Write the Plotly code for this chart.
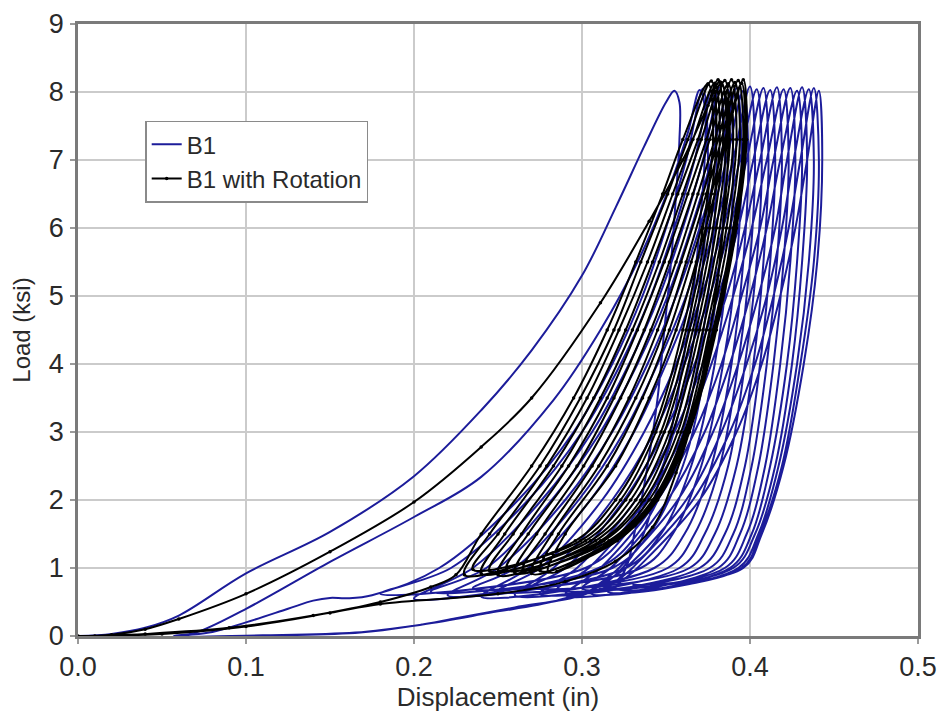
import plotly.graph_objects as go

# ---------------- DATA ----------------
# Load levels at which the displacement of each cycle branch is read
UP_LOADS = [1.0, 2.0, 3.0, 4.0, 5.0, 6.0, 7.0]
DOWN_LOADS = [7.0, 5.5, 4.0, 2.5, 1.5, 1.0]

# B1: first cycles (explicit path)
B1_INIT_X = [0.0, 0.02, 0.04, 0.06, 0.10, 0.15, 0.20, 0.24, 0.27, 0.30, 0.32, 0.337, 0.35, 0.355,
             0.358, 0.358, 0.356, 0.353, 0.349, 0.345, 0.339, 0.332, 0.323, 0.30, 0.26, 0.225, 0.20, 0.168, 0.12, 0.057,
             0.07, 0.10, 0.15, 0.20, 0.24, 0.283, 0.311, 0.335, 0.352, 0.363, 0.37,
             0.373, 0.373, 0.37, 0.366, 0.36, 0.353, 0.344, 0.333, 0.315, 0.285, 0.245, 0.205, 0.165, 0.11, 0.062,
             0.08, 0.10, 0.125, 0.14, 0.15, 0.16]
B1_INIT_Y = [0.0, 0.03, 0.12, 0.30, 0.92, 1.53, 2.35, 3.32, 4.20, 5.30, 6.30, 7.20, 7.85, 8.02,
             7.85, 7.30, 6.50, 5.50, 4.50, 3.50, 2.50, 1.60, 0.87, 0.60, 0.42, 0.26, 0.15, 0.05, 0.01, 0.0,
             0.05, 0.40, 1.09, 1.75, 2.34, 3.47, 4.50, 5.60, 6.60, 7.40, 8.03,
             7.80, 7.00, 6.00, 5.00, 4.00, 3.00, 2.10, 1.30, 0.80, 0.52, 0.34, 0.17, 0.05, 0.01, 0.0,
             0.06, 0.20, 0.40, 0.52, 0.56, 0.555]

# B1: later cycles
B1_VALLEY_X = [0.175, 0.18, 0.20, 0.21, 0.22, 0.235, 0.24, 0.25, 0.26, 0.27, 0.275, 0.285, 0.29, 0.30, 0.305, 0.31, 0.315, 0.32]
B1_VALLEY_Y = [0.60, 0.62, 0.55, 0.65, 0.60, 0.70, 0.58, 0.66, 0.60, 0.72, 0.62, 0.68, 0.60, 0.70, 0.63, 0.72, 0.66, 0.70]
B1_UP_X = [
    [0.215, 0.262, 0.295, 0.318, 0.336, 0.350, 0.362],
    [0.222, 0.268, 0.300, 0.323, 0.341, 0.355, 0.367],
    [0.235, 0.276, 0.306, 0.328, 0.346, 0.360, 0.372],
    [0.243, 0.282, 0.311, 0.333, 0.351, 0.365, 0.377],
    [0.250, 0.290, 0.318, 0.339, 0.356, 0.370, 0.382],
    [0.260, 0.298, 0.325, 0.345, 0.362, 0.375, 0.386],
    [0.268, 0.305, 0.331, 0.350, 0.366, 0.379, 0.390],
    [0.275, 0.312, 0.337, 0.356, 0.371, 0.384, 0.394],
    [0.283, 0.318, 0.343, 0.361, 0.376, 0.388, 0.398],
    [0.290, 0.325, 0.349, 0.367, 0.381, 0.393, 0.402],
    [0.297, 0.332, 0.355, 0.372, 0.386, 0.397, 0.406],
    [0.304, 0.338, 0.361, 0.377, 0.390, 0.401, 0.410],
    [0.311, 0.345, 0.367, 0.383, 0.395, 0.406, 0.414],
    [0.317, 0.351, 0.373, 0.388, 0.400, 0.410, 0.418],
    [0.322, 0.357, 0.378, 0.393, 0.405, 0.415, 0.422],
    [0.326, 0.362, 0.383, 0.398, 0.410, 0.419, 0.426],
    [0.330, 0.366, 0.388, 0.403, 0.414, 0.423, 0.430],
    [0.333, 0.370, 0.392, 0.407, 0.418, 0.427, 0.434],
]
B1_PEAK_X = [0.372, 0.377, 0.382, 0.387, 0.392, 0.396, 0.400, 0.404, 0.408, 0.412, 0.416, 0.420, 0.424, 0.428, 0.431, 0.435, 0.438, 0.441]
B1_PEAK_Y = [8.05, 8.02, 8.07, 8.03, 8.06, 8.02, 8.08, 8.04, 8.06, 8.03, 8.07, 8.04, 8.06, 8.02, 8.07, 8.04, 8.06, 8.02]
B1_DOWN_X = [
    [0.375, 0.372, 0.364, 0.348, 0.326, 0.302],
    [0.380, 0.377, 0.369, 0.354, 0.333, 0.310],
    [0.385, 0.382, 0.374, 0.360, 0.340, 0.318],
    [0.390, 0.387, 0.379, 0.365, 0.347, 0.326],
    [0.395, 0.392, 0.384, 0.371, 0.354, 0.335],
    [0.399, 0.396, 0.389, 0.377, 0.361, 0.343],
    [0.403, 0.400, 0.393, 0.382, 0.367, 0.351],
    [0.407, 0.404, 0.397, 0.387, 0.373, 0.358],
    [0.411, 0.408, 0.402, 0.392, 0.379, 0.364],
    [0.415, 0.412, 0.406, 0.397, 0.385, 0.370],
    [0.419, 0.416, 0.410, 0.401, 0.390, 0.376],
    [0.423, 0.420, 0.414, 0.405, 0.394, 0.381],
    [0.427, 0.424, 0.418, 0.409, 0.398, 0.385],
    [0.431, 0.428, 0.422, 0.412, 0.401, 0.388],
    [0.434, 0.431, 0.425, 0.415, 0.403, 0.390],
    [0.438, 0.435, 0.428, 0.417, 0.405, 0.393],
    [0.441, 0.438, 0.430, 0.419, 0.406, 0.395],
    [0.443, 0.440, 0.432, 0.420, 0.407, 0.396],
]
B1_END_X = [0.33]
B1_END_Y = [0.75]

# B1 with Rotation: first cycle (explicit path)
ROT_UP_LOADS = [1.5, 2.5, 3.5, 4.5, 5.5, 6.5, 7.3]
ROT_DOWN_LOADS = [7.3, 6.0, 4.5, 3.0, 2.0, 1.4]
ROT_INIT_X = [0.0, 0.02, 0.04, 0.06, 0.10, 0.15, 0.20, 0.24, 0.27, 0.311, 0.34, 0.36, 0.375, 0.382,
              0.386, 0.387, 0.385, 0.381, 0.375, 0.367, 0.356, 0.342, 0.32, 0.29, 0.25, 0.18, 0.15, 0.10, 0.05, 0.01,
              0.04, 0.09, 0.14, 0.18, 0.21]
ROT_INIT_Y = [0.0, 0.02, 0.10, 0.25, 0.62, 1.24, 1.97, 2.78, 3.50, 4.90, 6.10, 7.00, 7.80, 8.15,
              7.90, 7.20, 6.30, 5.30, 4.30, 3.30, 2.40, 1.60, 1.10, 0.80, 0.62, 0.47, 0.34, 0.14, 0.03, 0.0,
              0.03, 0.12, 0.30, 0.50, 0.72]
ROT_VALLEY_X = [0.225, 0.23, 0.235, 0.24, 0.245, 0.25, 0.255, 0.26, 0.265, 0.27, 0.275, 0.28]
ROT_VALLEY_Y = [0.90, 0.90, 0.98, 0.92, 0.96, 0.90, 0.97, 0.93, 0.98, 0.92, 0.96, 0.94]
ROT_UP_X = [
    [0.240, 0.270, 0.295, 0.315, 0.332, 0.348, 0.360],
    [0.245, 0.275, 0.299, 0.319, 0.335, 0.351, 0.363],
    [0.250, 0.279, 0.303, 0.322, 0.339, 0.354, 0.366],
    [0.254, 0.283, 0.307, 0.326, 0.342, 0.357, 0.369],
    [0.259, 0.288, 0.311, 0.330, 0.346, 0.360, 0.371],
    [0.264, 0.292, 0.315, 0.333, 0.349, 0.363, 0.374],
    [0.268, 0.297, 0.319, 0.337, 0.352, 0.366, 0.376],
    [0.273, 0.301, 0.323, 0.341, 0.356, 0.369, 0.379],
    [0.278, 0.306, 0.328, 0.345, 0.359, 0.372, 0.381],
    [0.282, 0.310, 0.332, 0.349, 0.362, 0.374, 0.383],
    [0.286, 0.315, 0.336, 0.352, 0.365, 0.377, 0.385],
    [0.290, 0.320, 0.340, 0.356, 0.368, 0.379, 0.386],
]
ROT_PEAK_X = [0.375, 0.377, 0.379, 0.381, 0.383, 0.385, 0.387, 0.389, 0.391, 0.393, 0.395, 0.396]
ROT_PEAK_Y = [8.12, 8.16, 8.13, 8.18, 8.14, 8.17, 8.12, 8.18, 8.14, 8.17, 8.13, 8.18]
ROT_DOWN_X = [
    [0.378, 0.372, 0.360, 0.342, 0.320, 0.296],
    [0.380, 0.374, 0.362, 0.344, 0.323, 0.299],
    [0.382, 0.376, 0.364, 0.347, 0.326, 0.302],
    [0.384, 0.378, 0.366, 0.349, 0.329, 0.305],
    [0.386, 0.380, 0.368, 0.352, 0.332, 0.308],
    [0.388, 0.382, 0.370, 0.354, 0.335, 0.311],
    [0.390, 0.384, 0.372, 0.357, 0.337, 0.313],
    [0.392, 0.386, 0.374, 0.359, 0.340, 0.316],
    [0.394, 0.388, 0.376, 0.361, 0.342, 0.318],
    [0.396, 0.390, 0.378, 0.362, 0.343, 0.319],
    [0.397, 0.391, 0.379, 0.363, 0.344, 0.320],
    [0.398, 0.392, 0.380, 0.364, 0.345, 0.321],
]
ROT_END_X = [0.285]
ROT_END_Y = [0.95]

X_TICKS = [0.0, 0.1, 0.2, 0.3, 0.4, 0.5]
Y_TICKS = [0, 1, 2, 3, 4, 5, 6, 7, 8, 9]


def build_path(init_x, init_y, vx, vy, upx, up_loads, px, py, dnx, dn_loads, end_x, end_y):
    xs = list(init_x)
    ys = list(init_y)
    for i in range(len(vx)):
        xs.append(vx[i]); ys.append(vy[i])
        xs.extend(upx[i]); ys.extend(up_loads)
        xs.append(px[i]); ys.append(py[i])
        xs.extend(dnx[i]); ys.extend(dn_loads)
    xs.extend(end_x); ys.extend(end_y)
    return xs, ys


b1_x, b1_y = build_path(B1_INIT_X, B1_INIT_Y, B1_VALLEY_X, B1_VALLEY_Y, B1_UP_X, UP_LOADS,
                        B1_PEAK_X, B1_PEAK_Y, B1_DOWN_X, DOWN_LOADS, B1_END_X, B1_END_Y)
rot_x, rot_y = build_path(ROT_INIT_X, ROT_INIT_Y, ROT_VALLEY_X, ROT_VALLEY_Y, ROT_UP_X, ROT_UP_LOADS,
                          ROT_PEAK_X, ROT_PEAK_Y, ROT_DOWN_X, ROT_DOWN_LOADS, ROT_END_X, ROT_END_Y)

FONT = "Liberation Sans, Arial, sans-serif"
TXT = "#2a2a2a"

fig = go.Figure()
fig.add_trace(go.Scatter(
    x=b1_x, y=b1_y, name="B1", mode="lines",
    line=dict(color="#1c1c9a", width=2.0, shape="spline", smoothing=1.0),
))
fig.add_trace(go.Scatter(
    x=rot_x, y=rot_y, name="B1 with Rotation", mode="lines+markers",
    line=dict(color="#000000", width=2.0, shape="spline", smoothing=1.0),
    marker=dict(color="#000000", size=3.5),
))

axis_common = dict(
    showgrid=True, gridcolor="#cbcbcb", gridwidth=1.6,
    showline=True, linecolor="#7a7a7a", linewidth=2.5, mirror=True,
    ticks="outside", ticklen=5, tickcolor="#9a9a9a", tickwidth=1.5,
    zeroline=False, automargin=False,
    tickfont=dict(family=FONT, size=27, color=TXT),
)

fig.update_layout(
    width=940, height=717,
    margin=dict(l=78, r=22, t=24, b=81),
    paper_bgcolor="white", plot_bgcolor="white",
    font=dict(family=FONT, color=TXT),
    showlegend=True,
    legend=dict(
        x=0.08, y=0.842, xanchor="left", yanchor="top",
        bgcolor="white", bordercolor="#8a8a8a", borderwidth=1.5,
        font=dict(family=FONT, size=24, color=TXT),
        itemwidth=30, tracegroupgap=0,
    ),
    xaxis=dict(
        range=[0, 0.5], tickvals=X_TICKS, tickformat=".1f", ticklabelstandoff=0,
        title=dict(text="Displacement (in)", font=dict(family=FONT, size=26, color=TXT), standoff=4),
        **axis_common,
    ),
    yaxis=dict(
        range=[0, 9], tickvals=Y_TICKS, ticklabelstandoff=1,
        title=dict(text="Load (ksi)", font=dict(family=FONT, size=24, color=TXT), standoff=12),
        **axis_common,
    ),
)

fig.write_html("out.html")
